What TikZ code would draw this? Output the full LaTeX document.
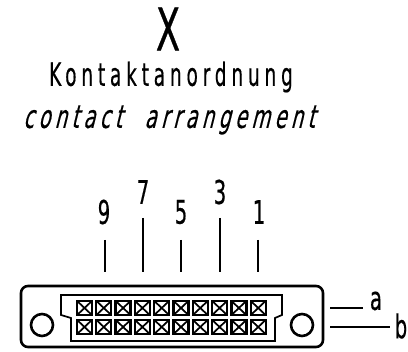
\documentclass[tikz,border=0pt]{standalone}
\usepackage{fontspec}
\newfontfamily\uprf[FakeStretch=0.58,LetterSpace=15,FakeBold=0.4]{DejaVu Sans}
\newfontfamily\slantf[FakeStretch=0.6,FakeSlant=0.25,LetterSpace=14,FakeBold=0.4]{DejaVu Sans}
\newfontfamily\digf[FakeStretch=0.6,FakeBold=0.5]{DejaVu Sans}
\begin{document}
\begin{tikzpicture}[x=0.75pt,y=-0.75pt,
  txt/.style={inner sep=0pt,text=black,anchor=center},
  digit/.style={txt,font=\digf\fontsize{24.5}{24.5}\selectfont},
  lead/.style={draw=black,line width=1.6pt*0.75},
  body/.style={draw=black,line width=2.6pt*0.75,line join=round},
  inner/.style={draw=black,line width=1.7pt*0.75},
  cellbox/.style={draw=black,line width=2.3pt*0.75,fill=white,minimum width=11.2pt,minimum height=10.6pt,inner sep=0pt,
    path picture={\draw[line width=1.3pt] (path picture bounding box.north west)--(path picture bounding box.south east)
      (path picture bounding box.north east)--(path picture bounding box.south west);}},
  hole/.style={draw=black,line width=2.6pt*0.75,circle,minimum size=16.5pt,inner sep=0pt}]
\useasboundingbox (0,0) rectangle (408,352);
\node[txt,font=\digf\fontsize{44}{44}\selectfont] (title) at (168,29) {X};
\node[txt,font=\uprf\fontsize{24}{24}\selectfont] (de) at (171,77) {Kontaktanordnung};
\node[txt,font=\slantf\fontsize{24}{24}\selectfont] (en) at (169,120) {contact\hspace{9pt} arrangement};
\draw[body,rounded corners=7pt*0.75] (21,286) rectangle (323,347);
\draw[inner] (61,295) -- (282,295) -- (282,315) -- (275,318) -- (275,341) -- (71,341) -- (71,318) -- (61,315) -- cycle;
\foreach \i in {0,...,9}{
  \node[cellbox] (u\i) at ({84.5+19.3*\i},308) {};
  \node[cellbox] (l\i) at ({84.5+19.3*\i},327) {};
}
\node[hole] (hl) at (42,325) {};
\node[hole] (hr) at (302,325) {};
\coordinate (p9a) at (105,240); \coordinate (p9b) at (105,272);
\coordinate (p7a) at (143,218); \coordinate (p7b) at (143,272);
\coordinate (p5a) at (181,240); \coordinate (p5b) at (181,272);
\coordinate (p3a) at (220,218); \coordinate (p3b) at (220,272);
\coordinate (p1a) at (258,240); \coordinate (p1b) at (258,272);
\foreach \n in {9,7,5,3,1}{\draw[lead] (p\n a) -- (p\n b);}
\node[digit] (n9) at (104,212) {9};
\node[digit] (n7) at (143,192) {7};
\node[digit] (n5) at (181,212) {5};
\node[digit] (n3) at (220,192) {3};
\node[digit] (n1) at (259,212) {1};
\coordinate (aa) at (330,308); \coordinate (ab) at (363,308);
\coordinate (ba) at (330,327); \coordinate (bb) at (390,327);
\draw[lead] (aa) -- (ab);
\draw[lead] (ba) -- (bb);
\node[digit] (la) at (376,301) {a};
\node[digit] (lb) at (401,326) {b};
\end{tikzpicture}
\end{document}
